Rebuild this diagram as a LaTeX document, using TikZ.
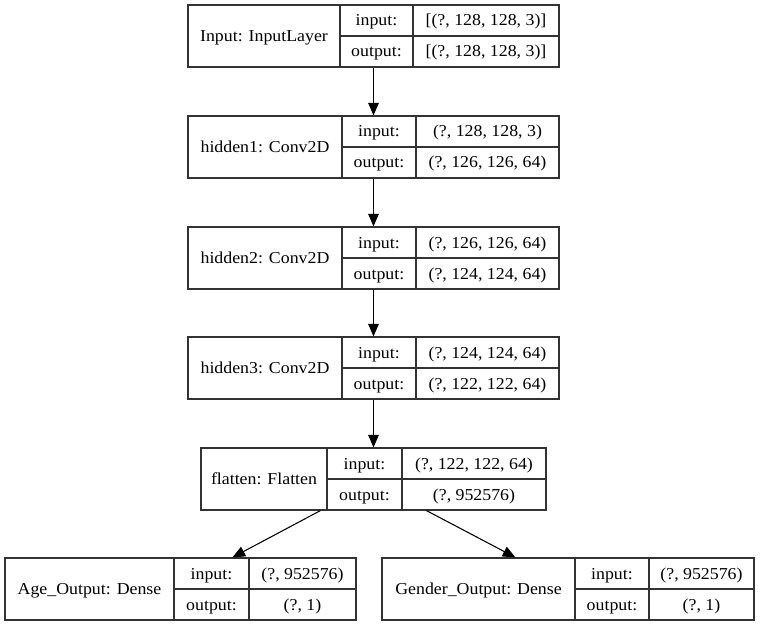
\documentclass[tikz,border=0pt]{standalone}
\usepackage{fontspec}
\setmainfont{Liberation Serif}[FakeStretch=1.07]
\usetikzlibrary{fit,calc,arrows.meta}
\tikzset{
  cellline/.style={line width=0.85pt, draw=black!80},
  boxnode/.style={draw=black!80, line width=0.85pt, inner sep=0pt},
  txt/.style={inner sep=0pt, font=\fontsize{12.5}{14}\selectfont, anchor=base},
  conn/.style={line width=0.8pt, -{Triangle[length=9.5pt,width=8pt]}}
}
% name, left, top, div1, div2, right, label, in, out
\newcommand\layerbox[9]{%
  \coordinate (#1-nw) at (#2,#3);
  \coordinate (#1-se) at (#6,#3+62);
  \node[boxnode, fit=(#1-nw)(#1-se)] (#1) {};
  \draw[cellline] (#4,#3) -- (#4,#3+62);
  \draw[cellline] (#5,#3) -- (#5,#3+62);
  \draw[cellline] (#4,#3+31) -- (#6,#3+31);
  \node[txt] (#1-lbl) at ({(#2+#4)/2},#3+36.5) {#7};
  \node[txt] (#1-ik) at ({(#4+#5)/2},#3+21) {input:};
  \node[txt] (#1-ok) at ({(#4+#5)/2},#3+52) {output:};
  \node[txt] (#1-iv) at ({(#5+#6)/2},#3+21) {#8};
  \node[txt] (#1-ov) at ({(#5+#6)/2},#3+52) {#9};
}
\begin{document}
\begin{tikzpicture}[x=0.75pt,y=-0.75pt]
\useasboundingbox (0,0) rectangle (762,627);
\layerbox{inp}{188}{5}{340}{413}{559}{Input: InputLayer}{[(?, 128, 128, 3)]}{[(?, 128, 128, 3)]}
\layerbox{h1}{188}{116}{342}{416}{559}{hidden1: Conv2D}{(?, 128, 128, 3)}{(?, 126, 126, 64)}
\layerbox{h2}{188}{227}{342}{416}{559}{hidden2: Conv2D}{(?, 126, 126, 64)}{(?, 124, 124, 64)}
\layerbox{h3}{188}{337}{342}{416}{559}{hidden3: Conv2D}{(?, 124, 124, 64)}{(?, 122, 122, 64)}
\layerbox{fl}{201}{448}{327}{402}{546}{flatten: Flatten}{(?, 122, 122, 64)}{(?, 952576)}
\layerbox{age}{5}{558}{174}{249}{356}{Age\_Output: Dense}{(?, 952576)}{(?, 1)}
\layerbox{gen}{382}{558}{575}{649}{754}{Gender\_Output: Dense}{(?, 952576)}{(?, 1)}
\draw[conn] (inp.south) -- (h1.north);
\draw[conn] (h1.south) -- (h2.north);
\draw[conn] (h2.south) -- (h3.north);
\draw[conn] (h3.south) -- (h3.south |- fl.north);
\draw[conn] ($(fl.south west)+(120,0)$) -- ($(age.north west)+(228,0)$);
\draw[conn] ($(fl.south west)+(226,0)$) -- ($(gen.north west)+(134,0)$);
\end{tikzpicture}
\end{document}
